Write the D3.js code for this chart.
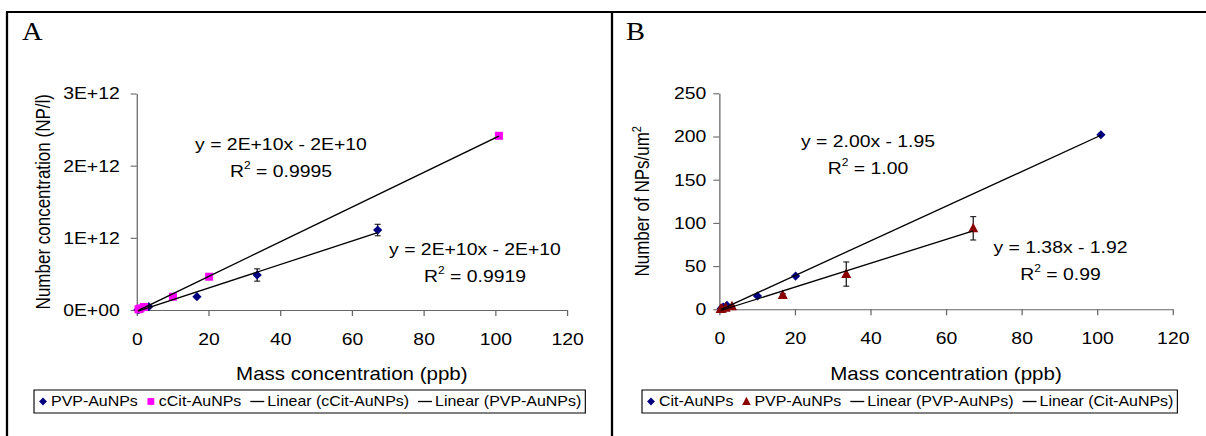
<!DOCTYPE html>
<html>
<head>
<meta charset="utf-8">
<script src="https://cdn.jsdelivr.net/npm/d3@7"></script>
<style>
  body { margin: 0; background: #fff; }
  svg { display: block; }
  text { font-family: "Liberation Sans", Arial, sans-serif; fill: #000; }
  text.panel-letter { font-family: "Liberation Serif", "Times New Roman", serif; }
</style>
</head>
<body>
<svg id="chart"></svg>
<script>
// ---- data ----
const xTicks = [0, 20, 40, 60, 80, 100, 120];

// A: number concentration (NP/l) vs mass concentration (ppb)
const pvpMassA = [0.34, 0.67, 1.68, 3.36, 16.8, 33.6, 67.2];
const pvpNumA = [0.004e12, 0.01e12, 0.025e12, 0.046e12, 0.184e12, 0.485e12, 1.108e12];
const pvpErrA = [0, 0, 0, 0.006e12, 0.012e12, 0.085e12, 0.08e12];
const citMassA = [0.51, 1.01, 2.02, 10.1, 20.2, 101];
const citNumA = [0.01e12, 0.022e12, 0.042e12, 0.184e12, 0.461e12, 2.414e12];
const yTicksA = [0, 1e12, 2e12, 3e12];
const yTickLabelsA = ["0E+00", "1E+12", "2E+12", "3E+12"];
const eqTextA = ["y = 2E+10x - 2E+10", "y = 2E+10x - 2E+10"];
const r2TextA = ["0.9995", "0.9919"];
const legendLabelsA = ["PVP-AuNPs", "cCit-AuNPs", "Linear (cCit-AuNPs)", "Linear (PVP-AuNPs)"];

// B: number of NPs per um2 vs mass concentration (ppb)
const citMassB = [0.51, 1.01, 2.02, 10.1, 20.2, 101];
const citNumB = [0.8, 2.5, 4.5, 15.4, 38.5, 202];
const pvpMassB = [0.34, 0.67, 1.68, 3.36, 16.8, 33.6, 67.2];
const pvpNumB = [0.3, 0.7, 1.8, 3.6, 16.5, 40.8, 93.7];
const pvpErrB = [0, 0, 0.5, 1, 1.5, 14, 13.5];
const yTicksB = [0, 50, 100, 150, 200, 250];
const eqTextB = ["y = 2.00x - 1.95", "y = 1.38x - 1.92"];
const r2TextB = ["1.00", "0.99"];
const legendLabelsB = ["Cit-AuNPs", "PVP-AuNPs", "Linear (PVP-AuNPs)", "Linear (Cit-AuNPs)"];

// ---- page setup: the source image is stretched horizontally ----
const W = 1206, H = 436, SX = 1.14;
const lx = px => px / SX;          // pixel x -> drawing x
const FONT = 17;

const svg = d3.select("#chart")
    .attr("width", W)
    .attr("height", H)
    .attr("viewBox", `0 0 ${W / SX} ${H}`)
    .attr("preserveAspectRatio", "none");

const COLORS = { navy: "#000080", magenta: "#ff00ff", darkred: "#8b0000" };

function symbolPath(type) {
    if (type === "diamond") {
        const r = 4.6, rx = r / SX;
        return `M0,${-r}L${rx},0L0,${r}L${-rx},0Z`;
    }
    if (type === "square") {
        const h = 4, hx = h / SX;
        return `M${-hx},${-h}H${hx}V${h}H${-hx}Z`;
    }
    // triangle
    const hw = 5 / SX;
    return `M0,-5.5L${hw},4L${-hw},4Z`;
}

function linearFit(xs, ys) {
    const mx = d3.mean(xs), my = d3.mean(ys);
    const sxy = d3.sum(xs, (x, i) => (x - mx) * (ys[i] - my));
    const sxx = d3.sum(xs, x => (x - mx) * (x - mx));
    const slope = sxy / sxx;
    return { slope, intercept: my - slope * mx };
}

function addR2(sel, value, fs) {
    sel.append("tspan").text("R");
    sel.append("tspan").attr("dy", -0.45 * fs).attr("font-size", fs * 0.62).text("2");
    sel.append("tspan").attr("dy", 0.45 * fs).text(" = " + value);
}

class ScatterPanel {
    constructor(_config, _series) {
        this.config = _config;
        this.series = _series;
        this.initVis();
    }

    initVis() {
        let vis = this;
        const c = vis.config;

        vis.g = svg.append("g");

        vis.xScale = d3.scaleLinear().domain([0, 120]).range([lx(c.left), lx(c.right)]);
        vis.yScale = d3.scaleLinear().domain([0, c.yMax]).range([c.bottom, c.top]);

        vis.xAxis = d3.axisBottom(vis.xScale)
            .tickValues(xTicks)
            .tickSize(6)
            .tickSizeOuter(0)
            .tickPadding(17);

        vis.yAxis = d3.axisLeft(vis.yScale)
            .tickValues(c.yTicks)
            .tickSize(lx(6))
            .tickSizeOuter(0)
            .tickPadding(lx(c.yPad))
            .tickFormat((d, i) => c.yLabels ? c.yLabels[i] : d);

        vis.renderVis();
    }

    renderVis() {
        let vis = this;
        const c = vis.config;

        // panel letter
        vis.g.append("text")
            .attr("class", "panel-letter")
            .attr("x", lx(c.letterX))
            .attr("y", 40.5)
            .attr("font-size", 25)
            .text(c.letter);

        // axes
        const xg = vis.g.append("g")
            .attr("transform", `translate(0,${c.bottom})`)
            .call(vis.xAxis);
        const yg = vis.g.append("g")
            .attr("transform", `translate(${lx(c.left)},0)`)
            .call(vis.yAxis);
        [xg, yg].forEach(a => {
            a.attr("font-size", FONT);
            a.selectAll("path, line").attr("stroke", "#666").attr("stroke-width", 1.1);
            a.selectAll("text").attr("fill", "#000");
        });

        // axis titles
        vis.g.append("text")
            .attr("x", (vis.xScale.range()[0] + vis.xScale.range()[1]) / 2)
            .attr("y", 380)
            .attr("text-anchor", "middle")
            .attr("font-size", FONT + 1)
            .text("Mass concentration (ppb)");

        const yt = vis.g.append("text")
            .attr("transform", `translate(${lx(c.yTitleX)},${(c.top + c.bottom) / 2}) rotate(-90)`)
            .attr("text-anchor", "middle")
            .attr("font-size", FONT);
        yt.append("tspan").text(c.yTitle);
        if (c.yTitleSup) {
            yt.append("tspan").attr("dy", -7).attr("font-size", 11).text(c.yTitleSup);
        }

        // error bars
        const cap = lx(3);
        vis.series.forEach(s => {
            const pts = s.x.map((x, i) => ({ x, y: s.y[i], e: s.err ? s.err[i] : 0 }))
                .filter(d => d.e > 0);
            const eb = vis.g.append("g").attr("stroke", "#000").attr("stroke-width", 1);
            pts.forEach(d => {
                const cx = vis.xScale(d.x);
                const y1 = vis.yScale(d.y - d.e), y2 = vis.yScale(d.y + d.e);
                eb.append("line").attr("x1", cx).attr("x2", cx).attr("y1", y1).attr("y2", y2);
                eb.append("line").attr("x1", cx - cap).attr("x2", cx + cap).attr("y1", y1).attr("y2", y1);
                eb.append("line").attr("x1", cx - cap).attr("x2", cx + cap).attr("y1", y2).attr("y2", y2);
            });
        });

        // markers
        vis.series.forEach(s => {
            vis.g.append("g").selectAll("path")
                .data(s.x.map((x, i) => [x, s.y[i]]))
                .join("path")
                .attr("d", symbolPath(s.symbol))
                .attr("fill", s.color)
                .attr("transform", d => `translate(${vis.xScale(d[0])},${vis.yScale(d[1])})`);
        });

        // linear trendlines
        vis.series.forEach(s => {
            const f = linearFit(s.x, s.y);
            const x0 = d3.min(s.x), x1 = d3.max(s.x);
            vis.g.append("line")
                .attr("x1", vis.xScale(x0)).attr("y1", vis.yScale(f.intercept + f.slope * x0))
                .attr("x2", vis.xScale(x1)).attr("y2", vis.yScale(f.intercept + f.slope * x1))
                .attr("stroke", "#000")
                .attr("stroke-width", 1.3);
        });

        // equation labels
        c.eqs.forEach((e, i) => {
            vis.g.append("text")
                .attr("x", lx(e.x)).attr("y", e.y)
                .attr("text-anchor", "middle")
                .attr("font-size", FONT)
                .text(c.eqText[i]);
            vis.g.append("text")
                .attr("x", lx(e.x)).attr("y", e.y + 27)
                .attr("text-anchor", "middle")
                .attr("font-size", FONT)
                .call(addR2, c.r2Text[i], FONT);
        });

        vis.renderLegend();
    }

    renderLegend() {
        let vis = this;
        const c = vis.config;
        const lg = vis.g.append("g").attr("transform", `translate(${lx(c.legendX)},390)`);
        const box = lg.append("rect")
            .attr("y", 0).attr("height", 23)
            .attr("fill", "#fff").attr("stroke", "#000").attr("stroke-width", 1);

        let cur = lx(5);
        c.legendItems.forEach((it, i) => {
            if (it.type === "line") {
                lg.append("line")
                    .attr("x1", cur).attr("x2", cur + lx(14))
                    .attr("y1", 11.5).attr("y2", 11.5)
                    .attr("stroke", "#000").attr("stroke-width", 1.3);
                cur += lx(17);
            } else {
                lg.append("path")
                    .attr("d", symbolPath(it.type))
                    .attr("fill", it.color)
                    .attr("transform", `translate(${cur + lx(4)},11.5) scale(0.85)`);
                cur += lx(12);
            }
            const t = lg.append("text")
                .attr("x", cur).attr("y", 16.5)
                .attr("font-size", 14)
                .text(c.legendLabels[i]);
            cur += t.node().getComputedTextLength() + lx(9);
        });
        box.attr("width", cur - lx(5));
    }
}

// ---- outer frame ----
svg.append("g").attr("stroke", "#000").attr("stroke-width", 2).attr("fill", "none")
    .call(g => {
        g.append("line").attr("x1", lx(6)).attr("x2", lx(W)).attr("y1", 12).attr("y2", 12);
        g.append("line").attr("x1", lx(7)).attr("x2", lx(7)).attr("y1", 12).attr("y2", H);
        g.append("line").attr("x1", lx(612)).attr("x2", lx(612)).attr("y1", 12).attr("y2", H);
    });

new ScatterPanel({
    letter: "A", letterX: 22,
    left: 136.7, right: 567, top: 93.5, bottom: 310,
    yMax: 3e12, yTicks: yTicksA, yLabels: yTickLabelsA, yPad: 11,
    yTitle: "Number concentration (NP/l)", yTitleX: 50,
    eqText: eqTextA, r2Text: r2TextA,
    eqs: [{ x: 281, y: 150 }, { x: 475, y: 255 }],
    legendX: 34, legendLabels: legendLabelsA,
    legendItems: [
        { type: "diamond", color: COLORS.navy },
        { type: "square", color: COLORS.magenta },
        { type: "line" }, { type: "line" }
    ]
}, [
    { x: pvpMassA, y: pvpNumA, err: pvpErrA, symbol: "diamond", color: COLORS.navy },
    { x: citMassA, y: citNumA, symbol: "square", color: COLORS.magenta }
]);

new ScatterPanel({
    letter: "B", letterX: 626,
    left: 719.3, right: 1172.7, top: 93.3, bottom: 309.3,
    yMax: 250, yTicks: yTicksB, yPad: 7,
    yTitle: "Number of NPs/um", yTitleSup: "2", yTitleX: 649,
    eqText: eqTextB, r2Text: r2TextB,
    eqs: [{ x: 868, y: 147 }, { x: 1060.5, y: 253 }],
    legendX: 642, legendLabels: legendLabelsB,
    legendItems: [
        { type: "diamond", color: COLORS.navy },
        { type: "triangle", color: COLORS.darkred },
        { type: "line" }, { type: "line" }
    ]
}, [
    { x: citMassB, y: citNumB, symbol: "diamond", color: COLORS.navy },
    { x: pvpMassB, y: pvpNumB, err: pvpErrB, symbol: "triangle", color: COLORS.darkred }
]);
</script>
</body>
</html>
